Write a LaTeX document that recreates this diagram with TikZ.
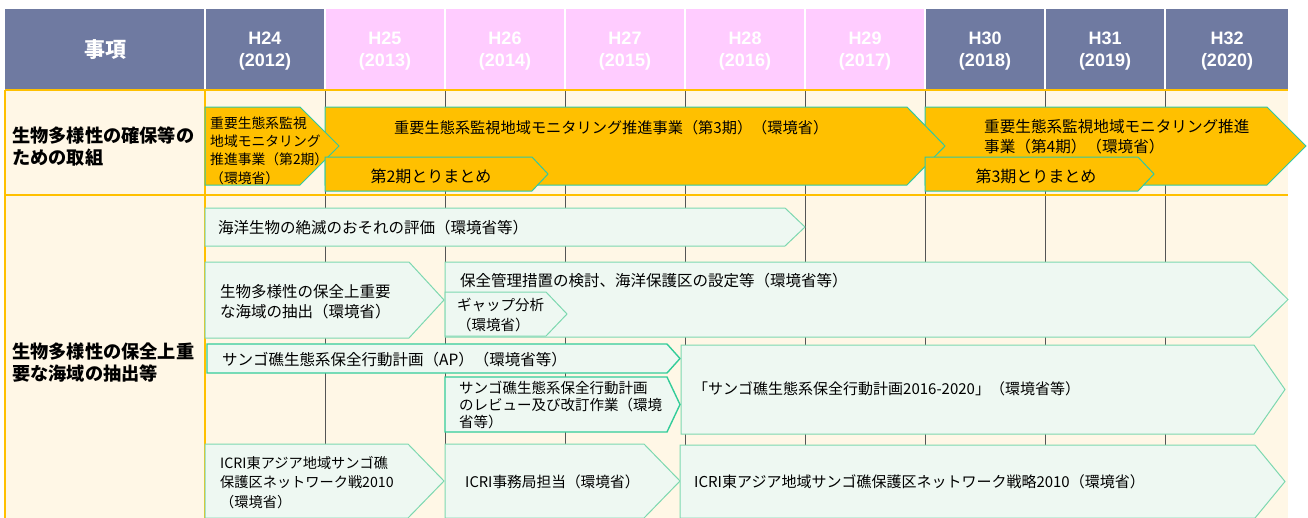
\documentclass[tikz,border=0pt]{standalone}
\usepackage{fontspec}
\newfontfamily\jp{Noto Sans CJK JP}
\newfontfamily\hd{Liberation Sans}
\definecolor{slate}{HTML}{6F7AA1}
\definecolor{pinkh}{HTML}{FFCCFF}
\definecolor{cream}{HTML}{FFF7E6}
\definecolor{orangeln}{HTML}{FFC000}
\definecolor{gold}{HTML}{FFC000}
\definecolor{tealb}{HTML}{30C8A4}
\definecolor{mint}{HTML}{EEF8F2}
\definecolor{mintb}{HTML}{7DD8B0}
\definecolor{mintbd}{HTML}{33CC99}
\definecolor{gridc}{HTML}{555555}
\newcommand\pent[6]{\draw[#1] (#2,#3) -- (#4,#3) -- (#5,{(#3+#6)/2}) -- (#4,#6) -- (#2,#6) -- cycle;}
\begin{document}
\begin{tikzpicture}[x=1pt,y=-1pt,
  goldarrow/.style={fill=gold,draw=tealb,line width=1pt,line join=miter},
  mintarrow/.style={fill=mint,draw=mintb,line width=1pt,line join=miter},
  mintarrowd/.style={fill=mint,draw=mintbd,line width=1.4pt,line join=miter},
  yeartxt/.style={text=white,font={\hd\bfseries\fontsize{18}{22}\selectfont},align=center,inner sep=0pt},
  rowlab/.style={anchor=west,align=left,inner sep=0pt,font={\jp\bfseries\fontsize{18.2}{22}\selectfont}},
  txt/.style={anchor=west,align=left,inner sep=0pt,text=black},
  gridline/.style={draw=gridc,line width=1pt},
  orline/.style={draw=orangeln,line width=1.6pt}]
\useasboundingbox (0,0) rectangle (1308,517);
\clip (0,0) rectangle (1308,517);
% header
\fill[slate] (5,9) rectangle (325,90);
\fill[pinkh] (325,9) rectangle (925,90);
\fill[slate] (925,9) rectangle (1288,90);
\foreach \x in {205,325,445,565,685,805,925,1045,1165}
  \draw[white,line width=1.5pt] (\x,9) -- (\x,90);
\node[text=white,font={\jp\bfseries\fontsize{21}{24}\selectfont},inner sep=0pt] (hitem) at (105,50) {事項};
\node[yeartxt] (h24) at (265,51) {H24\\(2012)};
\node[yeartxt] (h25) at (385,51) {H25\\(2013)};
\node[yeartxt] (h26) at (505,51) {H26\\(2014)};
\node[yeartxt] (h27) at (625,51) {H27\\(2015)};
\node[yeartxt] (h28) at (745,51) {H28\\(2016)};
\node[yeartxt] (h29) at (865,51) {H29\\(2017)};
\node[yeartxt] (h30) at (985,51) {H30\\(2018)};
\node[yeartxt] (h31) at (1105,51) {H31\\(2019)};
\node[yeartxt] (h32) at (1227,51) {H32\\(2020)};
% body background
\fill[cream] (5,90) rectangle (1288,518);
\foreach \x in {325,445,565,685,805,925,1045,1165} {
  \draw[gridline] (\x,91) -- (\x,194);
  \draw[gridline] (\x,196) -- (\x,518);
}
\draw[orline] (5,90) -- (1288,90);
\draw[orline] (5,195) -- (1288,195);
\draw[orline] (5,90) -- (5,518);
\draw[orline] (205,90) -- (205,518);
% row labels
\node[rowlab] (r1) at (12,146) {生物多様性の確保等の\\ための取組};
\node[rowlab] (r2) at (12,362.5) {生物多様性の保全上重\\要な海域の抽出等};
% row 1 arrows
\pent{goldarrow}{925}{107}{1267}{1306}{185}
\pent{goldarrow}{325}{107}{907}{945}{185}
\pent{goldarrow}{205}{107}{300}{339}{185}
\pent{goldarrow}{325}{157}{532}{548}{191}
\pent{goldarrow}{925}{157}{1138}{1154}{191}
\node[txt,font={\jp\fontsize{13.8}{18.3}\selectfont}] (t2ki) at (210,150.5) {重要生態系監視\\地域モニタリング\\推進事業（第2期）\\（環境省）};
\node[txt,font={\jp\fontsize{15.2}{19}\selectfont}] (t3ki) at (394,128) {重要生態系監視地域モニタリング推進事業（第3期）（環境省）};
\node[txt,font={\jp\fontsize{15.6}{20}\selectfont}] (t4ki) at (984,137) {重要生態系監視地域モニタリング推進\\事業（第4期）（環境省）};
\node[font={\jp\fontsize{16}{19}\selectfont},inner sep=0pt] (m2) at (431,176) {第2期とりまとめ};
\node[font={\jp\fontsize{16}{19}\selectfont},inner sep=0pt] (m3) at (1036,176) {第3期とりまとめ};
% row 2 arrows
\pent{mintarrow}{205}{208}{785}{805}{246}
\pent{mintarrow}{445}{262}{1250}{1288}{337}
\pent{mintarrow}{205}{262}{409}{444}{338}
\pent{mintarrow}{445}{292}{546}{567}{336}
\pent{mintarrowd}{207}{344}{667}{680}{373}
\pent{mintarrow}{681}{345}{1254}{1285}{434}
\pent{mintarrowd}{445}{377}{667}{680}{432}
\pent{mintarrow}{205}{444}{408}{444}{518}
\pent{mintarrow}{445}{444}{644}{680}{518}
\pent{mintarrow}{680}{445}{1255}{1285}{518}
\node[txt,font={\jp\fontsize{15.5}{19}\selectfont}] (kaiyo) at (218,228) {海洋生物の絶滅のおそれの評価（環境省等）};
\node[txt,font={\jp\fontsize{15.5}{20.5}\selectfont}] (chu) at (220,301.5) {生物多様性の保全上重要\\な海域の抽出（環境省）};
\node[txt,font={\jp\fontsize{15.5}{19}\selectfont}] (hozen) at (460,281) {保全管理措置の検討、海洋保護区の設定等（環境省等）};
\node[txt,font={\jp\fontsize{14.5}{20}\selectfont}] (gap) at (457,315) {ギャップ分析\\（環境省）};
\node[txt,font={\jp\fontsize{15.5}{19}\selectfont}] (ap) at (222,359.5) {サンゴ礁生態系保全行動計画（AP）（環境省等）};
\node[txt,font={\jp\fontsize{14.5}{17}\selectfont}] (rev) at (459,405) {サンゴ礁生態系保全行動計画\\のレビュー及び改訂作業（環境\\省等）};
\node[txt,font={\jp\fontsize{15}{19}\selectfont}] (ap2) at (693,389) {「サンゴ礁生態系保全行動計画2016-2020」（環境省等）};
\node[txt,font={\jp\fontsize{14.2}{19.5}\selectfont}] (icri1) at (220,482.5) {ICRI東アジア地域サンゴ礁\\保護区ネットワーク戦2010\\（環境省）};
\node[txt,font={\jp\fontsize{14.7}{19}\selectfont}] (icri2) at (465,482) {ICRI事務局担当（環境省）};
\node[txt,font={\jp\fontsize{15}{19}\selectfont}] (icri3) at (694,482) {ICRI東アジア地域サンゴ礁保護区ネットワーク戦略2010（環境省）};
\end{tikzpicture}
\end{document}
